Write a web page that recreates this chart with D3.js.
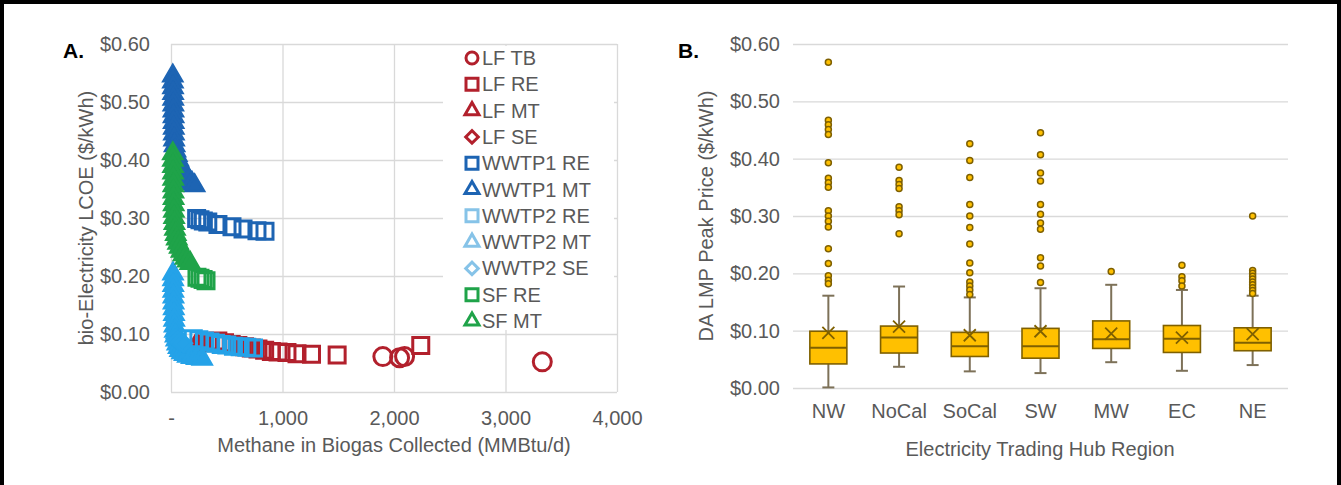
<!DOCTYPE html>
<html>
<head>
<meta charset="utf-8">
<script src="https://cdn.jsdelivr.net/npm/d3@7"></script>
<style>
  body { margin: 0; background: #fff; }
  svg { display: block; font-family: "Liberation Sans", Arial, sans-serif; }
</style>
</head>
<body>
<svg id="chart" width="1341" height="485"></svg>
<script>
// ---- Panel A: bio-electricity LCOE vs methane collected ([MMBtu/d, $/kWh]) ----
const LF_TB = [[1900, 0.061], [2050, 0.059], [2095, 0.061], [3330, 0.052]];
const LF_RE = [[420, 0.088], [480, 0.085], [540, 0.082], [600, 0.080], [660, 0.078], [720, 0.076],
  [780, 0.074], [840, 0.072], [900, 0.070], [960, 0.069], [1040, 0.068], [1130, 0.066],
  [1260, 0.065], [1490, 0.064], [2240, 0.080]];
const LF_MT = [[230, 0.083], [300, 0.080]];
const LF_SE = [[260, 0.082]];
const WWTP1_RE = [[230, 0.299], [260, 0.297], [290, 0.295], [330, 0.293], [421, 0.289],
  [547, 0.285], [646, 0.281], [771, 0.278], [843, 0.277]];
const WWTP1_MT = [[16, 0.545], [17, 0.535], [18, 0.525], [19, 0.515], [20, 0.505], [21, 0.495],
  [22, 0.485], [23, 0.475], [24, 0.465], [25, 0.455], [26, 0.445], [28, 0.435], [32, 0.425],
  [40, 0.416], [52, 0.408], [66, 0.400], [82, 0.392], [100, 0.385], [120, 0.378], [142, 0.371],
  [165, 0.365], [188, 0.360], [212, 0.356]];
const WWTP2_RE = [[200, 0.092], [250, 0.090], [300, 0.088], [350, 0.086], [400, 0.084],
  [450, 0.082], [500, 0.081], [560, 0.079], [620, 0.078], [680, 0.077], [740, 0.076]];
const WWTP2_MT = [[18, 0.204], [19, 0.194], [20, 0.184], [21, 0.174], [22, 0.164], [23, 0.154],
  [25, 0.144], [27, 0.134], [29, 0.124], [32, 0.114], [36, 0.105], [41, 0.097], [48, 0.090],
  [57, 0.083], [68, 0.077], [82, 0.072], [100, 0.068], [122, 0.065], [150, 0.062], [185, 0.060],
  [230, 0.058], [280, 0.057]];
const WWTP2_SE = [[40, 0.092], [60, 0.089], [85, 0.086], [110, 0.084]];
const SF_RE = [[233, 0.198], [260, 0.196], [288, 0.194], [314, 0.192]];
const SF_MT = [[16, 0.411], [17, 0.400], [18, 0.389], [19, 0.378], [20, 0.367], [21, 0.356],
  [22, 0.345], [23, 0.334], [24, 0.323], [26, 0.312], [28, 0.301], [31, 0.291], [36, 0.281],
  [43, 0.272], [52, 0.264], [64, 0.257], [78, 0.250], [94, 0.243], [112, 0.237], [130, 0.231],
  [150, 0.226], [172, 0.222]];

const SERIES_NAMES = ["LF TB", "LF RE", "LF MT", "LF SE", "WWTP1 RE", "WWTP1 MT",
  "WWTP2 RE", "WWTP2 MT", "WWTP2 SE", "SF RE", "SF MT"];
const SERIES_DATA = [LF_TB, LF_RE, LF_MT, LF_SE, WWTP1_RE, WWTP1_MT,
  WWTP2_RE, WWTP2_MT, WWTP2_SE, SF_RE, SF_MT];

const A_X_TICKS = [0, 1000, 2000, 3000, 4000];
const PRICE_TICKS = [0, 0.1, 0.2, 0.3, 0.4, 0.5, 0.6];

// ---- Panel B: DA LMP peak price by hub ----
const HUBS = ["NW", "NoCal", "SoCal", "SW", "MW", "EC", "NE"];
const WHISK_LO = [0.001, 0.037, 0.029, 0.026, 0.045, 0.030, 0.040];
const Q1 = [0.042, 0.061, 0.055, 0.052, 0.069, 0.062, 0.065];
const MEDIAN = [0.070, 0.088, 0.073, 0.073, 0.085, 0.086, 0.079];
const Q3 = [0.099, 0.108, 0.097, 0.104, 0.117, 0.109, 0.105];
const WHISK_HI = [0.161, 0.177, 0.158, 0.174, 0.180, 0.171, 0.161];
const MEAN = [0.096, 0.107, 0.092, 0.099, 0.095, 0.088, 0.094];
const OUTLIERS = [
  [0.568, 0.467, 0.459, 0.451, 0.442, 0.393, 0.366, 0.358, 0.350, 0.309, 0.300, 0.291, 0.281, 0.243, 0.217, 0.196, 0.188, 0.182],
  [0.385, 0.362, 0.355, 0.348, 0.316, 0.309, 0.302, 0.269],
  [0.426, 0.397, 0.367, 0.320, 0.300, 0.280, 0.251, 0.218, 0.201, 0.185, 0.178, 0.171, 0.163],
  [0.445, 0.407, 0.375, 0.361, 0.320, 0.303, 0.288, 0.277, 0.227, 0.213, 0.184],
  [0.203],
  [0.214, 0.194, 0.187, 0.178],
  [0.300, 0.205, 0.200, 0.195, 0.190, 0.185, 0.180, 0.175, 0.170, 0.165]
];

// ---- styles ----
const TXT = "#595959", GRID = "#d9d9d9", FS = 20;
const RED = "#b2202c", DBLUE = "#1d64b3", LBLUE = "#25a2e8", GREEN = "#1fa349";
const SERIES_COLOR = [RED, RED, RED, RED, DBLUE, DBLUE, LBLUE, LBLUE, LBLUE, GREEN, GREEN];
const LEGEND_COLOR = [RED, RED, RED, RED, DBLUE, DBLUE, "#86c3e8", "#86c3e8", "#86c3e8", GREEN, GREEN];
const SERIES_SHAPE = ["circle", "square", "triangle", "diamond", "square", "triangle",
  "square", "triangle", "diamond", "square", "triangle"];
const GOLD = "#ffc000", BOXLINE = "#7f6000", WHISK = "#7d7158";

const svg = d3.select("#chart");
const money = (d) => "$" + d.toFixed(2);

function symbolPath(shape, s) {
  if (shape === "circle") return d3.symbol(d3.symbolCircle, Math.PI * s * s / 4)();
  if (shape === "square") return d3.symbol(d3.symbolSquare, s * s)();
  if (shape === "diamond") return d3.symbol(d3.symbolSquare, s * s * 0.55)();
  return d3.symbol(d3.symbolTriangle, Math.sqrt(3) / 4 * s * s)();
}

// frame
svg.append("rect").attr("x", 0).attr("y", 0).attr("width", 1341).attr("height", 4).attr("fill", "#000");
svg.append("rect").attr("x", 0).attr("y", 0).attr("width", 4).attr("height", 485).attr("fill", "#000");
svg.append("rect").attr("x", 1337).attr("y", 0).attr("width", 4).attr("height", 485).attr("fill", "#000");

// ================= Panel A =================
const xA = d3.scaleLinear().domain([0, 4000]).range([171, 617]);
const yA = d3.scaleLinear().domain([0, 0.6]).range([392, 44]);
const gA = svg.append("g");

gA.append("g").attr("transform", "translate(171,0)")
  .call(d3.axisLeft(yA).tickValues(PRICE_TICKS).tickFormat(money)
    .tickSize(-(617 - 171)).tickPadding(21))
  .call((g) => g.select(".domain").remove())
  .call((g) => g.selectAll("line").attr("stroke", GRID).attr("stroke-width", 1.3))
  .call((g) => g.selectAll("text").attr("fill", TXT).attr("font-size", FS).attr("font-family", null));

gA.append("g").attr("transform", "translate(0,392)")
  .call(d3.axisBottom(xA).tickValues(A_X_TICKS)
    .tickFormat((d) => d === 0 ? "-" : d3.format(",")(d))
    .tickSize(-(392 - 44)).tickPadding(19))
  .call((g) => g.select(".domain").remove())
  .call((g) => g.selectAll("line").attr("stroke", GRID).attr("stroke-width", 1.3))
  .call((g) => g.selectAll("text").attr("fill", TXT).attr("font-size", FS).attr("font-family", null));

// legend box sits over the gridlines
gA.append("rect").attr("x", 443).attr("y", 46).attr("width", 171).attr("height", 284).attr("fill", "#fff");

SERIES_DATA.forEach((data, i) => {
  const shape = SERIES_SHAPE[i];
  const solid = shape === "triangle" || (shape === "diamond" && i > 4);
  const size = shape === "circle" ? 18 : shape === "triangle" ? 18 : 16;
  gA.append("g").selectAll("path").data(data).join("path")
    .attr("d", symbolPath(shape, size))
    .attr("transform", (d) => `translate(${xA(d[0])},${yA(d[1])})` + (shape === "diamond" ? " rotate(45)" : ""))
    .attr("fill", solid ? SERIES_COLOR[i] : "none")
    .attr("stroke", SERIES_COLOR[i])
    .attr("stroke-width", 3);
});

// legend
const leg = gA.append("g").selectAll("g").data(SERIES_NAMES).join("g")
  .attr("transform", (d, i) => `translate(472,${58 + i * 26.3})`);
leg.append("path")
  .attr("d", (d, i) => symbolPath(SERIES_SHAPE[i], SERIES_SHAPE[i] === "triangle" ? 14 : 12))
  .attr("transform", (d, i) => SERIES_SHAPE[i] === "diamond" ? "rotate(45)" : null)
  .attr("fill", "none")
  .attr("stroke", (d, i) => LEGEND_COLOR[i])
  .attr("stroke-width", 3);
leg.append("text").attr("x", 10).attr("dy", "0.35em")
  .attr("fill", TXT).attr("font-size", FS).text((d) => d);

gA.append("text").attr("x", 63).attr("y", 58).attr("font-size", 21).attr("font-weight", "bold")
  .attr("fill", "#000").text("A.");
gA.append("text").attr("transform", "translate(93,218) rotate(-90)").attr("text-anchor", "middle")
  .attr("fill", TXT).attr("font-size", FS).text("bio-Electricity LCOE ($/kWh)");
gA.append("text").attr("x", 394).attr("y", 452).attr("text-anchor", "middle")
  .attr("fill", TXT).attr("font-size", FS).text("Methane in Biogas Collected (MMBtu/d)");

// ================= Panel B =================
const xB = d3.scaleBand().domain(HUBS).range([793, 1288]);
const yB = d3.scaleLinear().domain([0, 0.6]).range([388, 44]);
const gB = svg.append("g");

gB.append("g").attr("transform", "translate(793,0)")
  .call(d3.axisLeft(yB).tickValues(PRICE_TICKS).tickFormat(money)
    .tickSize(-(1288 - 793)).tickPadding(13))
  .call((g) => g.select(".domain").remove())
  .call((g) => g.selectAll("line").attr("stroke", GRID).attr("stroke-width", 1.3))
  .call((g) => g.selectAll("text").attr("fill", TXT).attr("font-size", FS).attr("font-family", null));

gB.append("g").attr("transform", "translate(0,388)")
  .call(d3.axisBottom(xB).tickSize(0).tickPadding(16))
  .call((g) => g.select(".domain").remove())
  .call((g) => g.selectAll("text").attr("fill", TXT).attr("font-size", FS).attr("font-family", null));

const bw = 37, cap = 12;
const boxes = gB.append("g").selectAll("g").data(HUBS).join("g")
  .attr("transform", (d) => `translate(${xB(d) + xB.bandwidth() / 2},0)`);

boxes.append("line").attr("y1", (d, i) => yB(WHISK_LO[i])).attr("y2", (d, i) => yB(WHISK_HI[i]))
  .attr("stroke", WHISK).attr("stroke-width", 2);
boxes.append("line").attr("x1", -cap / 2).attr("x2", cap / 2)
  .attr("y1", (d, i) => yB(WHISK_HI[i])).attr("y2", (d, i) => yB(WHISK_HI[i]))
  .attr("stroke", WHISK).attr("stroke-width", 2);
boxes.append("line").attr("x1", -cap / 2).attr("x2", cap / 2)
  .attr("y1", (d, i) => yB(WHISK_LO[i])).attr("y2", (d, i) => yB(WHISK_LO[i]))
  .attr("stroke", WHISK).attr("stroke-width", 2);
boxes.append("rect").attr("x", -bw / 2).attr("width", bw)
  .attr("y", (d, i) => yB(Q3[i])).attr("height", (d, i) => yB(Q1[i]) - yB(Q3[i]))
  .attr("fill", GOLD).attr("stroke", BOXLINE).attr("stroke-width", 1.6);
boxes.append("line").attr("x1", -bw / 2).attr("x2", bw / 2)
  .attr("y1", (d, i) => yB(MEDIAN[i])).attr("y2", (d, i) => yB(MEDIAN[i]))
  .attr("stroke", BOXLINE).attr("stroke-width", 2);
boxes.append("path")
  .attr("d", (d, i) => { const y = yB(MEAN[i]); return `M-6,${y - 6}L6,${y + 6}M-6,${y + 6}L6,${y - 6}`; })
  .attr("stroke", BOXLINE).attr("stroke-width", 1.8).attr("fill", "none");
boxes.each(function (d, i) {
  d3.select(this).selectAll("circle").data(OUTLIERS[i]).join("circle")
    .attr("cy", (v) => yB(v)).attr("r", 3)
    .attr("fill", GOLD).attr("stroke", BOXLINE).attr("stroke-width", 1.5);
});

gB.append("text").attr("x", 678).attr("y", 58).attr("font-size", 21).attr("font-weight", "bold")
  .attr("fill", "#000").text("B.");
gB.append("text").attr("transform", "translate(713,216) rotate(-90)").attr("text-anchor", "middle")
  .attr("fill", TXT).attr("font-size", FS).text("DA LMP Peak Price ($/kWh)");
gB.append("text").attr("x", 1040).attr("y", 456).attr("text-anchor", "middle")
  .attr("fill", TXT).attr("font-size", FS).text("Electricity Trading Hub Region");
</script>
</body>
</html>
